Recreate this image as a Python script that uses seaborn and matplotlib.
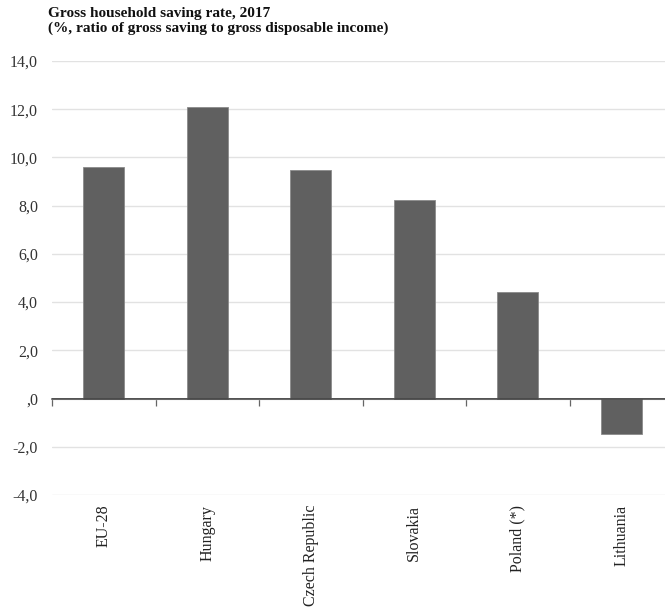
import matplotlib
matplotlib.use("Agg")
import matplotlib.pyplot as plt
import seaborn as sns
import pandas as pd
from matplotlib.ticker import FuncFormatter, FixedLocator

countries = ["EU-28", "Hungary", "Czech Republic", "Slovakia", "Poland (*)", "Lithuania"]
saving_rate = [9.6, 12.1, 9.5, 8.25, 4.4, -1.45]
y_ticks = [-4, -2, 0, 2, 4, 6, 8, 10, 12, 14]

df = pd.DataFrame({"country": countries, "rate": saving_rate})

sns.set_theme(style="white")
plt.rcParams["font.family"] = ["Liberation Serif", "DejaVu Serif"]

fig = plt.figure(figsize=(6.65, 6.13), dpi=100)
ax = fig.add_axes([52 / 665, 1 - 495 / 613, 621 / 665, (495 - 61) / 613])

sns.barplot(data=df, x="country", y="rate", color="#606060", width=0.4,
            saturation=1, edgecolor="#8a8a8a", linewidth=0.6, ax=ax, zorder=3)

ax.set_ylim(-4, 14)
ax.set_xlim(-0.5, len(countries) - 0.5)
ax.yaxis.set_major_locator(FixedLocator(y_ticks))


def fmt(v, pos):
    if abs(v) < 1e-9:
        return ",0"
    return f"{v:.1f}".replace(".", ",")


ax.yaxis.set_major_formatter(FuncFormatter(fmt))
ax.grid(axis="y", color="#e2e2e2", linewidth=1.0, zorder=0)
ax.grid(axis="x", visible=False)
ax.set_axisbelow(True)
for s in ax.spines.values():
    s.set_visible(False)

ax.tick_params(axis="y", length=0, pad=10, labelsize=11.5, labelcolor="#333333")
ax.tick_params(axis="x", length=0, pad=7, labelsize=11.5, labelcolor="#222222")
for lbl in ax.get_xticklabels():
    lbl.set_rotation(90)
    lbl.set_va("top")
    lbl.set_ha("center")
ax.set_xlabel("")
ax.set_ylabel("")

# zero baseline with category separator ticks
ax.axhline(0, color="#444444", linewidth=1.1, zorder=4)
zero_pos = (0 - (-4)) / 18
sec = ax.secondary_xaxis(zero_pos)
sec.set_xticks([i - 0.5 for i in range(len(countries) + 1)])
sec.set_xticklabels([])
sec.tick_params(axis="x", length=5, width=0.9, color="#666666", direction="out")
sec.spines["bottom"].set_color("#444444")
sec.spines["bottom"].set_linewidth(1.1)
for k in ("top", "left", "right"):
    if k in sec.spines:
        sec.spines[k].set_visible(False)

fig.text(48 / 665, 1 - 7 / 613,
         "Gross household saving rate, 2017\n(%, ratio of gross saving to gross disposable income)",
         ha="left", va="top", fontsize=11, fontweight="bold", color="#111111",
         linespacing=1.15)

fig.savefig("out.png", dpi=100)
